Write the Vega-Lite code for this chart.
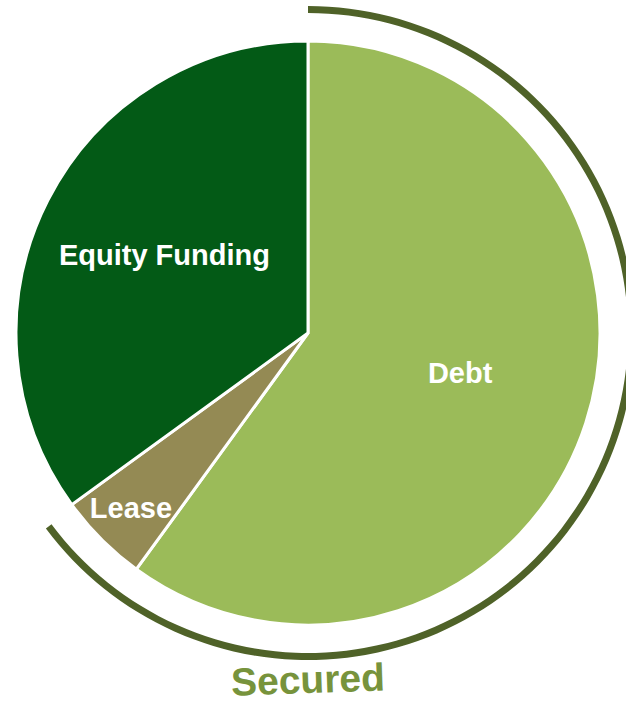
{
  "$schema": "https://vega.github.io/schema/vega-lite/v6.json",
  "width": 616,
  "height": 666,
  "autosize": "none",
  "padding": {"left": 0, "top": 0, "right": 10, "bottom": 39},
  "background": "white",
  "config": {"font": "Liberation Sans", "view": {"stroke": null}},
  "datasets": {
    "slices": [
      {"category": "Debt", "value": 60, "order": 1},
      {"category": "Lease", "value": 5, "order": 2},
      {"category": "Equity Funding", "value": 35, "order": 3}
    ],
    "secured": [{"label": "Secured", "start": 0, "end": 64.8, "mid": 50}]
  },
  "layer": [
    {
      "data": {"name": "slices"},
      "mark": {"type": "arc", "outerRadius": 292, "stroke": "white", "strokeWidth": 3},
      "encoding": {
        "theta": {"field": "value", "type": "quantitative", "stack": true},
        "order": {"field": "order", "type": "quantitative"},
        "color": {
          "field": "category",
          "type": "nominal",
          "scale": {"domain": ["Debt", "Lease", "Equity Funding"], "range": ["#9bbb59", "#948a54", "#035a16"]},
          "legend": null
        }
      }
    },
    {
      "data": {"name": "slices"},
      "mark": {
        "type": "text",
        "fontSize": 29,
        "fontWeight": "bold",
        "fill": "white",
        "dy": 2,
        "radius": {"expr": "datum.category === 'Lease' ? 248 : (datum.category === 'Debt' ? 157 : 164)"},
        "thetaOffset": {"expr": "datum.category === 'Lease' ? 0.01 : (datum.category === 'Debt' ? -0.064 : 0.033)"}
      },
      "encoding": {
        "theta": {"field": "value", "type": "quantitative", "stack": true},
        "order": {"field": "order", "type": "quantitative"},
        "text": {"field": "category", "type": "nominal"}
      }
    },
    {
      "data": {"name": "secured"},
      "mark": {"type": "arc", "innerRadius": 320, "outerRadius": 327, "color": "#4f6228"},
      "encoding": {
        "theta": {"field": "start", "type": "quantitative"},
        "theta2": {"field": "end"}
      }
    },
    {
      "data": {"name": "secured"},
      "mark": {"type": "text", "radius": 348, "fontSize": 39, "fontWeight": "bold", "fill": "#77933c", "angle": -2},
      "encoding": {
        "theta": {"field": "mid", "type": "quantitative"},
        "text": {"field": "label", "type": "nominal"}
      }
    }
  ]
}
